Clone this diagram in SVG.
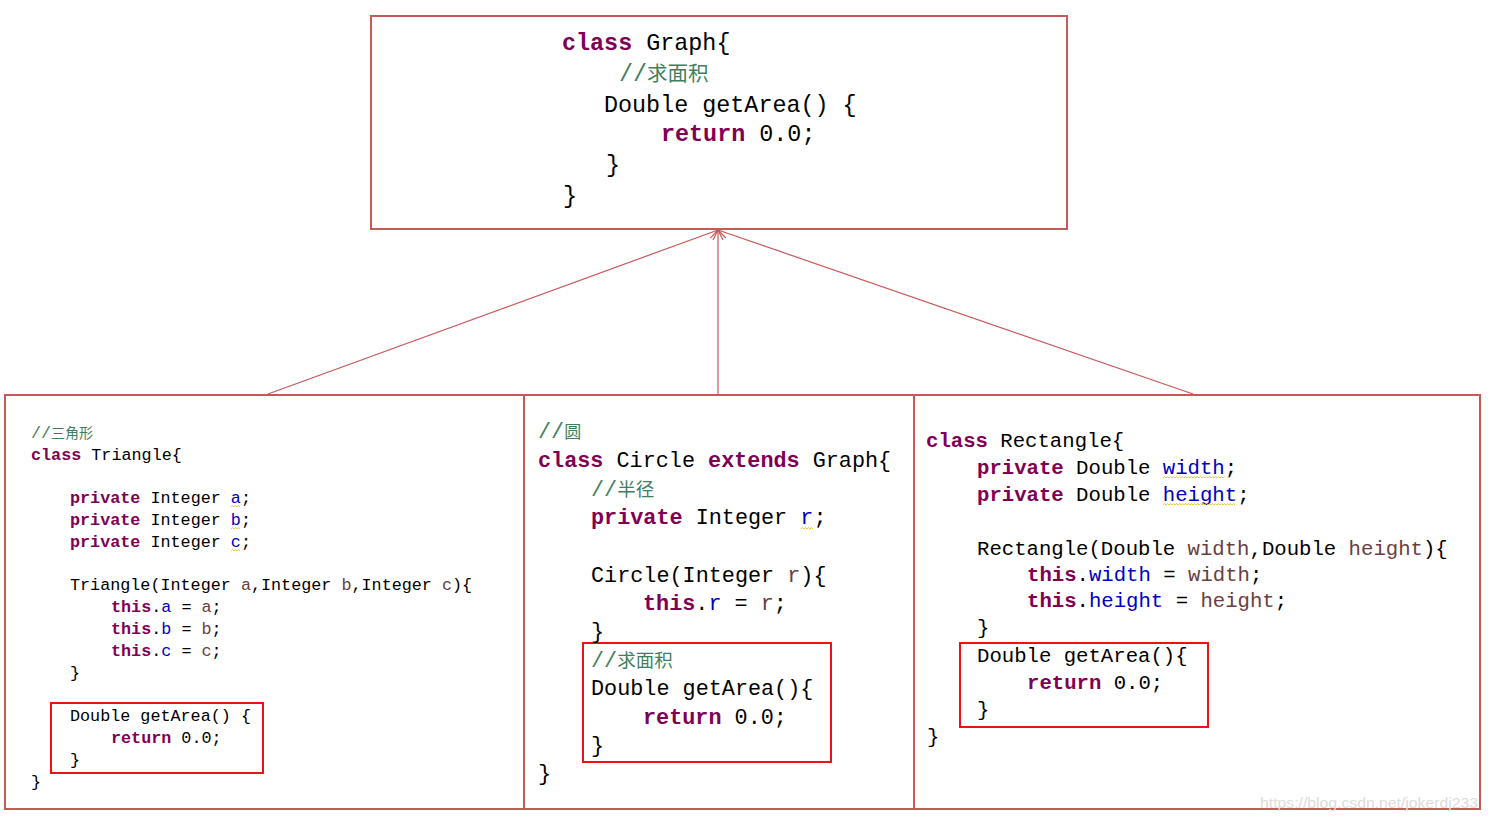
<svg xmlns="http://www.w3.org/2000/svg" width="1489" height="822" viewBox="0 0 1489 822">
<defs>
<style>
.box{fill:none;stroke:#c55a57;stroke-width:2}
.hl{fill:none;stroke:#ee1111;stroke-width:2}
.code{font-family:"Liberation Mono","DejaVu Sans Mono",monospace;fill:#000}
.k{fill:#7f0055;font-weight:bold}
.f{fill:#0000c0}
.v{fill:#6a3e3e}
.c{fill:#3f7f5f}
.cjk{font-family:"Noto Sans CJK SC",sans-serif;fill:#3f7f5f}
.conn{stroke:#c9575a;stroke-width:1.2;fill:none}
.sq{fill:none;stroke:#e8c62e;stroke-width:0.9}
.g{font-size:23.4px}
.t{font-size:16.75px}
.ci{font-size:21.8px}
.r{font-size:20.65px}
</style>
<marker id="arr" viewBox="0 0 12 12" refX="11" refY="6" markerWidth="12" markerHeight="12" markerUnits="userSpaceOnUse" orient="auto">
<path d="M1,1 L11,6 L1,11" fill="none" stroke="#c9575a" stroke-width="1.2"/>
</marker>
</defs>
<rect width="1489" height="822" fill="#fff"/>

<g id="connectors">
<line class="conn" x1="268" y1="394" x2="718" y2="230" marker-end="url(#arr)"/>
<line class="conn" x1="718" y1="394" x2="718" y2="230" marker-end="url(#arr)"/>
<line class="conn" x1="1193" y1="394" x2="718" y2="230" marker-end="url(#arr)"/>
</g>

<g id="node-graph">
<rect class="box" x="371" y="16" width="696" height="213"/>
<g class="code g">
<text x="562" y="50"><tspan class="k">class</tspan> Graph{</text>
<text x="619" y="81"><tspan class="c">//</tspan><tspan class="cjk" font-size="20.5">求面积</tspan></text>
<text x="604" y="112">Double getArea() {</text>
<text x="661" y="141"><tspan class="k">return</tspan> 0.0;</text>
<text x="606" y="172">}</text>
<text x="563" y="203">}</text>
</g>
</g>

<g id="node-triangle">
<rect class="box" x="5" y="395" width="519" height="414"/>
<rect class="hl" x="51" y="703" width="212" height="70"/>
<g class="code t">
<text x="31" y="438"><tspan class="c">//</tspan><tspan class="cjk" font-size="14">三角形</tspan></text>
<text x="31" y="460"><tspan class="k">class</tspan> Triangle{</text>
<text x="70" y="503"><tspan class="k">private</tspan> Integer <tspan class="f">a</tspan>;</text>
<text x="70" y="525"><tspan class="k">private</tspan> Integer <tspan class="f">b</tspan>;</text>
<text x="70" y="547"><tspan class="k">private</tspan> Integer <tspan class="f">c</tspan>;</text>
<text x="70" y="590">Triangle(Integer <tspan class="v">a</tspan>,Integer <tspan class="v">b</tspan>,Integer <tspan class="v">c</tspan>){</text>
<text x="111" y="612"><tspan class="k">this</tspan>.<tspan class="f">a</tspan> = <tspan class="v">a</tspan>;</text>
<text x="111" y="634"><tspan class="k">this</tspan>.<tspan class="f">b</tspan> = <tspan class="v">b</tspan>;</text>
<text x="111" y="656"><tspan class="k">this</tspan>.<tspan class="f">c</tspan> = <tspan class="v">c</tspan>;</text>
<text x="70" y="678">}</text>
<text x="70" y="721">Double getArea() {</text>
<text x="111" y="743"><tspan class="k">return</tspan> 0.0;</text>
<text x="70" y="765">}</text>
<text x="31" y="787">}</text>
</g>
<path class="sq" d="M231,507 l1.5,-1.5 l1.5,1.5 l1.5,-1.5 l1.5,1.5 l1.5,-1.5 l1.5,1.5"/>
<path class="sq" d="M231,529 l1.5,-1.5 l1.5,1.5 l1.5,-1.5 l1.5,1.5 l1.5,-1.5 l1.5,1.5"/>
<path class="sq" d="M231,551 l1.5,-1.5 l1.5,1.5 l1.5,-1.5 l1.5,1.5 l1.5,-1.5 l1.5,1.5"/>
</g>

<g id="node-circle">
<rect class="box" x="524" y="395" width="390" height="414"/>
<rect class="hl" x="583" y="643" width="248" height="119"/>
<g class="code ci">
<text x="538" y="438"><tspan class="c">//</tspan><tspan class="cjk" font-size="17">圆</tspan></text>
<text x="538" y="467"><tspan class="k">class</tspan> Circle <tspan class="k">extends</tspan> Graph{</text>
<text x="591" y="496"><tspan class="c">//</tspan><tspan class="cjk" font-size="18.5">半径</tspan></text>
<text x="591" y="524"><tspan class="k">private</tspan> Integer <tspan class="f">r</tspan>;</text>
<text x="591" y="582">Circle(Integer <tspan class="v">r</tspan>){</text>
<text x="643" y="610"><tspan class="k">this</tspan>.<tspan class="f">r</tspan> = <tspan class="v">r</tspan>;</text>
<text x="591" y="638">}</text>
<text x="591" y="667"><tspan class="c">//</tspan><tspan class="cjk" font-size="18.5">求面积</tspan></text>
<text x="591" y="695">Double getArea(){</text>
<text x="643" y="724"><tspan class="k">return</tspan> 0.0;</text>
<text x="591" y="752">}</text>
<text x="538" y="780">}</text>
</g>
<path class="sq" d="M801,529 l1.5,-1.5 l1.5,1.5 l1.5,-1.5 l1.5,1.5 l1.5,-1.5 l1.5,1.5 l1.5,-1.5 l1.5,1.5"/>
</g>

<g id="node-rectangle">
<rect class="box" x="914" y="395" width="566" height="414"/>
<rect class="hl" x="960" y="643" width="248" height="84"/>
<g class="code r">
<text x="926" y="447"><tspan class="k">class</tspan> Rectangle{</text>
<text x="977" y="474"><tspan class="k">private</tspan> Double <tspan class="f">width</tspan>;</text>
<text x="977" y="501"><tspan class="k">private</tspan> Double <tspan class="f">height</tspan>;</text>
<text x="977" y="555">Rectangle(Double <tspan class="v">width</tspan>,Double <tspan class="v">height</tspan>){</text>
<text x="1027" y="581"><tspan class="k">this</tspan>.<tspan class="f">width</tspan> = <tspan class="v">width</tspan>;</text>
<text x="1027" y="607"><tspan class="k">this</tspan>.<tspan class="f">height</tspan> = <tspan class="v">height</tspan>;</text>
<text x="977" y="634">}</text>
<text x="977" y="662">Double getArea(){</text>
<text x="1027" y="689"><tspan class="k">return</tspan> 0.0;</text>
<text x="977" y="716">}</text>
<text x="927" y="743">}</text>
</g>
<path class="sq" d="M1163,478 l1.5,-1.5 l1.5,1.5 l1.5,-1.5 l1.5,1.5 l1.5,-1.5 l1.5,1.5 l1.5,-1.5 l1.5,1.5 l1.5,-1.5 l1.5,1.5 l1.5,-1.5 l1.5,1.5 l1.5,-1.5 l1.5,1.5 l1.5,-1.5 l1.5,1.5 l1.5,-1.5 l1.5,1.5 l1.5,-1.5 l1.5,1.5 l1.5,-1.5 l1.5,1.5 l1.5,-1.5 l1.5,1.5 l1.5,-1.5 l1.5,1.5 l1.5,-1.5 l1.5,1.5 l1.5,-1.5 l1.5,1.5 l1.5,-1.5 l1.5,1.5 l1.5,-1.5 l1.5,1.5 l1.5,-1.5 l1.5,1.5 l1.5,-1.5 l1.5,1.5 l1.5,-1.5 l1.5,1.5 l1.5,-1.5"/>
<path class="sq" d="M1163,505 l1.5,-1.5 l1.5,1.5 l1.5,-1.5 l1.5,1.5 l1.5,-1.5 l1.5,1.5 l1.5,-1.5 l1.5,1.5 l1.5,-1.5 l1.5,1.5 l1.5,-1.5 l1.5,1.5 l1.5,-1.5 l1.5,1.5 l1.5,-1.5 l1.5,1.5 l1.5,-1.5 l1.5,1.5 l1.5,-1.5 l1.5,1.5 l1.5,-1.5 l1.5,1.5 l1.5,-1.5 l1.5,1.5 l1.5,-1.5 l1.5,1.5 l1.5,-1.5 l1.5,1.5 l1.5,-1.5 l1.5,1.5 l1.5,-1.5 l1.5,1.5 l1.5,-1.5 l1.5,1.5 l1.5,-1.5 l1.5,1.5 l1.5,-1.5 l1.5,1.5 l1.5,-1.5 l1.5,1.5 l1.5,-1.5 l1.5,1.5 l1.5,-1.5 l1.5,1.5 l1.5,-1.5 l1.5,1.5 l1.5,-1.5 l1.5,1.5"/>
</g>

<text x="1260" y="808" font-family="Liberation Sans, Arial, sans-serif" font-size="15" fill="#dcdcdc" textLength="218" lengthAdjust="spacingAndGlyphs">https://blog.csdn.net/jokerdj233</text>
</svg>
